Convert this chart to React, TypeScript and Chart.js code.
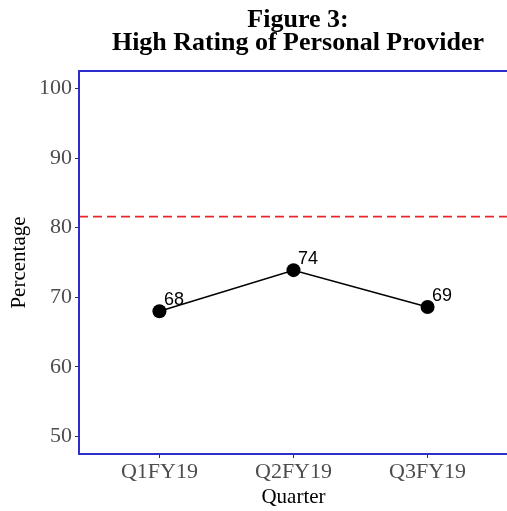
import React, { useEffect, useRef } from "react";
import { Chart, registerables } from "chart.js";
Chart.register(...registerables);

const quarters = ["Q1FY19", "Q2FY19", "Q3FY19"];
const percentages = [68.0, 73.9, 68.6];
const benchmark = 81.6;
const yTicks = [50, 60, 70, 80, 90, 100];
const titleLines = ["Figure 3:", "High Rating of Personal Provider"];
const xMin = 0.4;
const xMax = 3.6;
const yMin = 47.5;
const yMax = 102.5;

export default function App() {
  const ref = useRef<HTMLCanvasElement>(null);
  useEffect(() => {
    document.documentElement.style.overflow = "hidden";
    document.body.style.overflow = "hidden";
    const canvas = ref.current!;
    const serif = "'Liberation Serif', 'Times New Roman', serif";

    const titlePlugin = {
      id: "figTitle",
      afterDraw(chart: any) {
        const c = chart.ctx;
        c.save();
        c.fillStyle = "#000";
        c.font = `bold 26px ${serif}`;
        c.textAlign = "center";
        c.textBaseline = "alphabetic";
        c.fillText(titleLines[0], 298, 27);
        c.fillText(titleLines[1], 298, 49.5);
        c.restore();
      },
    };
    const borderPlugin = {
      id: "panelBorder",
      afterDraw(chart: any) {
        const a = chart.chartArea;
        const c = chart.ctx;
        c.save();
        c.strokeStyle = "#2e2ecc";
        c.lineWidth = 2;
        c.strokeRect(a.left, a.top, a.right - a.left, a.bottom - a.top);
        c.restore();
      },
    };
    const labelPlugin = {
      id: "pointLabels",
      afterDatasetsDraw(chart: any) {
        const meta = chart.getDatasetMeta(0);
        const c = chart.ctx;
        c.save();
        c.fillStyle = "#000";
        c.font = "18px 'Liberation Sans', Arial, sans-serif";
        c.textAlign = "left";
        c.textBaseline = "alphabetic";
        meta.data.forEach((el: any, i: number) => {
          c.fillText(String(Math.round(percentages[i])), el.x + 4.5, el.y - 6.5);
        });
        c.restore();
      },
    };

    const chart = new Chart(canvas, {
      type: "line",
      data: {
        datasets: [
          {
            data: quarters.map((_, i) => ({ x: i + 1, y: percentages[i] })),
            borderColor: "#000",
            backgroundColor: "#000",
            borderWidth: 1.5,
            pointRadius: 7,
            pointBackgroundColor: "#000",
            pointBorderWidth: 0,
            tension: 0,
          },
          {
            data: [
              { x: xMin, y: benchmark },
              { x: xMax, y: benchmark },
            ],
            borderColor: "#e8262b",
            borderWidth: 1.8,
            borderDash: [9, 5],
            pointRadius: 0,
          },
        ],
      },
      options: {
        animation: false,
        responsive: true,
        maintainAspectRatio: false,
        layout: { padding: { top: 71, right: 12, left: 0, bottom: 0 } },
        plugins: {
          legend: { display: false },
          tooltip: { enabled: false },
          title: { display: false },
        },
        scales: {
          x: {
            type: "linear",
            min: xMin,
            max: xMax,
            afterBuildTicks: (s: any) => {
              s.ticks = quarters.map((_, i) => ({ value: i + 1 }));
            },
            afterFit: (s: any) => {
              s.height = 57;
            },
            ticks: {
              callback: (_v: any, i: number) => quarters[i] ?? "",
              color: "#4d4d4d",
              font: { family: serif, size: 22 },
              padding: 1.5,
              maxRotation: 0,
              autoSkip: false,
            },
            grid: { drawOnChartArea: false, tickLength: 4, tickColor: "#333", tickWidth: 1 },
            border: { display: false },
            title: {
              display: true,
              text: "Quarter",
              color: "#000",
              font: { family: serif, size: 21 },
              padding: { top: 0, bottom: 0.5 },
            },
          },
          y: {
            type: "linear",
            min: yMin,
            max: yMax,
            afterBuildTicks: (s: any) => {
              s.ticks = yTicks.map((v) => ({ value: v }));
            },
            afterFit: (s: any) => {
              s.width = 79;
            },
            ticks: {
              color: "#4d4d4d",
              font: { family: serif, size: 22 },
              padding: 3,
            },
            grid: { drawOnChartArea: false, tickLength: 4, tickColor: "#333", tickWidth: 1 },
            border: { display: false },
            title: {
              display: true,
              text: "Percentage",
              color: "#000",
              font: { family: serif, size: 21 },
              padding: { top: 7, bottom: 0 },
            },
          },
        },
      },
      plugins: [titlePlugin, borderPlugin, labelPlugin],
    } as any);
    return () => chart.destroy();
  }, []);

  return (
    <div style={{ position: "fixed", left: 0, top: 0, width: 520, height: 511, background: "#fff" }}>
      <canvas ref={ref} />
    </div>
  );
}
